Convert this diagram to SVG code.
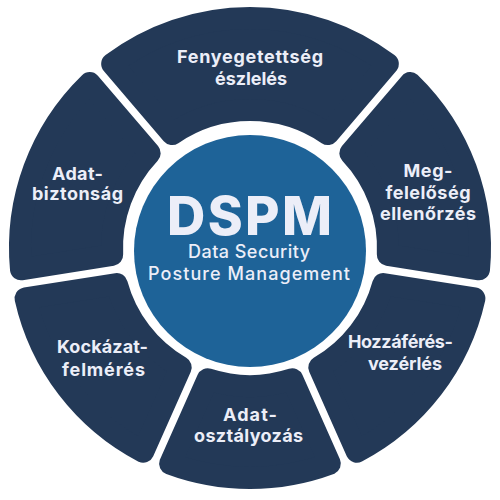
<svg xmlns="http://www.w3.org/2000/svg" width="500" height="500" viewBox="0 0 500 500">
<style>
.seg{fill:#233957;stroke:#233957;stroke-width:22;stroke-linejoin:round}
.lbl{font-family:Inter,"Open Sans","Liberation Sans",sans-serif;font-weight:700;font-size:18px;fill:#eceef8;text-anchor:middle}
.title{font-family:Inter,"Open Sans","Liberation Sans",sans-serif;font-weight:800;font-size:53px;fill:#eceef8;text-anchor:middle}
.sub{font-family:Inter,"Open Sans","Liberation Sans",sans-serif;font-weight:500;font-size:18px;fill:#eceef8;text-anchor:middle}
</style>
<rect width="500" height="500" fill="#ffffff"/>
<g transform="translate(0,-1)">
<g id="fenyegetettseg">
<path class="seg" d="M112.16,64.89 A230,230 0 0 1 387.84,64.89 L327.88,135.09 A138,138 0 0 0 172.12,135.09 Z"/>
<text class="lbl" x="250" y="64" textLength="146">Fenyegetettség</text>
<text class="lbl" x="251" y="86" textLength="72">észlelés</text>
</g>
<g id="megfeleloseg">
<path class="seg" d="M410.28,84.05 A230,230 0 0 1 479.02,270.33 L387.83,255.89 A138,138 0 0 0 350.32,154.25 Z"/>
<text class="lbl" x="428" y="178" textLength="49">Meg-</text>
<text class="lbl" x="428" y="200" textLength="85">felelőség</text>
<text class="lbl" x="428" y="221" textLength="96">ellenőrzés</text>
</g>
<g id="hozzaferes">
<path class="seg" d="M474.40,299.47 A230,230 0 0 1 356.82,452.68 L319.27,368.34 A138,138 0 0 0 383.21,285.03 Z"/>
<text class="lbl" x="400.5" y="349" textLength="105">Hozzáférés-</text>
<text class="lbl" x="405" y="371" textLength="74">vezérlés</text>
</g>
<g id="adatosztalyozas">
<path class="seg" d="M329.88,464.68 A230,230 0 0 1 170.12,464.68 L207.67,380.34 A138,138 0 0 0 292.33,380.34 Z"/>
<text class="lbl" x="250" y="422" textLength="54">Adat-</text>
<text class="lbl" x="248.5" y="443" textLength="109">osztályozás</text>
</g>
<g id="kockazatfelmeres">
<path class="seg" d="M143.18,452.68 A230,230 0 0 1 25.60,299.47 L116.79,285.03 A138,138 0 0 0 180.73,368.34 Z"/>
<text class="lbl" x="102.5" y="354" textLength="91">Kockázat-</text>
<text class="lbl" x="103.5" y="377" textLength="83">felmérés</text>
</g>
<g id="adatbiztonsag">
<path class="seg" d="M20.98,270.33 A230,230 0 0 1 89.72,84.05 L149.68,154.25 A138,138 0 0 0 112.17,255.89 Z"/>
<text class="lbl" x="77.5" y="181" textLength="51">Adat-</text>
<text class="lbl" x="77.5" y="201" textLength="91">biztonság</text>
</g>
</g>
<g id="dspm">
<circle cx="250" cy="251" r="116" fill="#1e6398"/>
<text class="title" x="249.5" y="235" textLength="165">DSPM</text>
<text class="sub" x="249" y="258" textLength="122">Data Security</text>
<text class="sub" x="249" y="280" textLength="202">Posture Management</text>
</g>
</svg>
